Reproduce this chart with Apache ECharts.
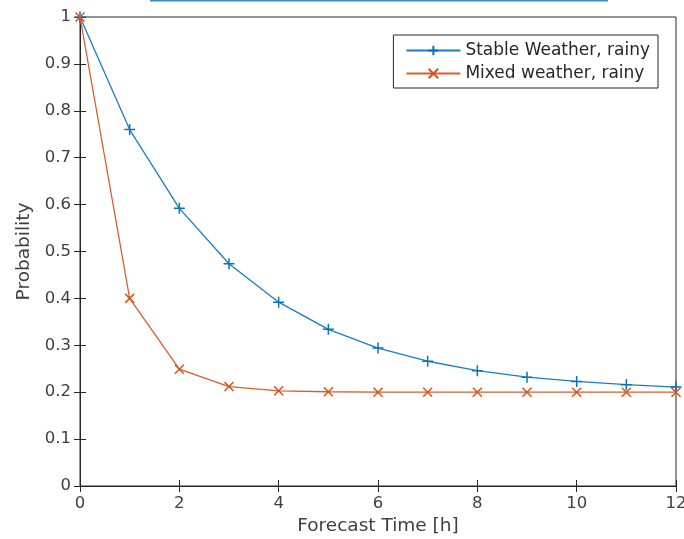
<!DOCTYPE html>
<html>
<head>
<meta charset="utf-8">
<script src="https://cdn.jsdelivr.net/npm/echarts@6/dist/echarts.min.js"></script>
<style>html,body{margin:0;padding:0;background:#fff;}#chart{width:684px;height:539px;}</style>
</head>
<body>
<div id="chart"></div>
<script>
var hours = [0,1,2,3,4,5,6,7,8,9,10,11,12];
var stableRainy = [1, 0.76, 0.592, 0.474, 0.392, 0.334, 0.294, 0.266, 0.246, 0.232, 0.223, 0.216, 0.211];
var mixedRainy = [1, 0.40, 0.249, 0.212, 0.203, 0.201, 0.200, 0.200, 0.200, 0.200, 0.200, 0.200, 0.200];
var seriesNames = ['Stable Weather, rainy', 'Mixed weather, rainy'];
var xLabel = 'Forecast Time [h]';
var yLabel = 'Probability';

var FONT = 'DejaVu Sans';
var AX = '#262626';
var TXT = '#404040';
var BLUE = '#1a7cc4';
var ORANGE = '#dc5d2a';
var plusPath = 'path://M0,5L10,5M5,0L5,10';
var crossPath = 'path://M0,0L10,10M0,10L10,0';

function pairs(vals){ return hours.map(function(h,i){ return [h, vals[i]]; }); }

var chart = echarts.init(document.getElementById('chart'), null, {renderer:'canvas'});
var grid = {left:80, right:8, top:17, bottom:53, show:true, borderColor:AX, borderWidth:1, backgroundColor:'#fff', containLabel:false, outerBoundsMode:'none'};
chart.setOption({
  animation:false,
  backgroundColor:'#fff',
  grid:grid,
  graphic:[{type:'rect', shape:{x:150, y:0, width:458, height:1.5}, style:{fill:'#3d8ac6'}}],
  legend:{
    right:26, top:35,
    orient:'vertical',
    backgroundColor:'#fff',
    borderColor:AX, borderWidth:1,
    padding:[7,8,6,12],
    itemWidth:54, itemHeight:12, itemGap:6,
    textStyle:{fontFamily:FONT, fontSize:17, color:AX},
    data:seriesNames
  },
  xAxis:[{
    type:'value', min:0, max:12, interval:2,
    name:xLabel, nameLocation:'middle', nameGap:31,
    nameTextStyle:{fontFamily:FONT, fontSize:18.5, color:TXT},
    axisLine:{show:true, lineStyle:{color:AX}},
    axisTick:{show:true, inside:true, length:6, lineStyle:{color:AX}},
    axisLabel:{fontFamily:FONT, fontSize:16.5, color:TXT, margin:9},
    splitLine:{show:false}
  },{
    type:'value', min:0, max:12, interval:2, position:'top',
    axisLine:{show:false},
    axisTick:{show:true, inside:true, length:6, lineStyle:{color:AX}},
    axisLabel:{show:false}, splitLine:{show:false}
  }],
  yAxis:[{
    type:'value', min:0, max:1, interval:0.1,
    name:yLabel, nameLocation:'middle', nameGap:45,
    nameTextStyle:{fontFamily:FONT, fontSize:18.5, color:TXT},
    axisLine:{show:true, lineStyle:{color:AX}},
    axisTick:{show:true, inside:true, length:6, lineStyle:{color:AX}},
    axisLabel:{fontFamily:FONT, fontSize:16.5, color:TXT, margin:9,
      formatter:function(v){ return String(Math.round(v*10)/10); }},
    splitLine:{show:false}
  },{
    type:'value', min:0, max:1, interval:0.1, position:'right',
    axisLine:{show:false},
    axisTick:{show:true, inside:true, length:6, lineStyle:{color:AX}},
    axisLabel:{show:false}, splitLine:{show:false}
  }],
  series:[{
    name:seriesNames[0], type:'line', data:pairs(stableRainy),
    symbol:plusPath, symbolSize:11, showSymbol:true,
    lineStyle:{color:BLUE, width:1.3},
    itemStyle:{color:'rgba(0,0,0,0)', borderColor:'#0a72bd', borderWidth:1.5},
    z:3
  },{
    name:seriesNames[1], type:'line', data:pairs(mixedRainy),
    symbol:crossPath, symbolSize:9, showSymbol:true,
    lineStyle:{color:ORANGE, width:1.3},
    itemStyle:{color:'rgba(0,0,0,0)', borderColor:'#d95319', borderWidth:1.5},
    z:4
  }]
});
</script>
</body>
</html>
